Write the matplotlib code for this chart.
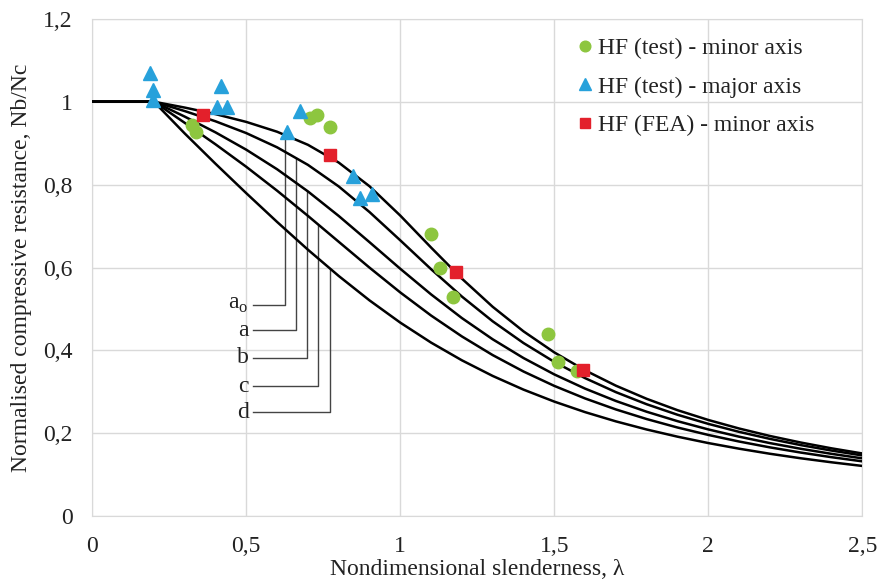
import matplotlib

matplotlib.use("Agg")
import matplotlib.pyplot as plt

# Buckling curves a0, a, b, c, d (reduction factor vs nondimensional slenderness)
lam = [0.0, 0.2, 0.3, 0.4, 0.5, 0.6, 0.7, 0.8, 0.9, 1.0, 1.1, 1.2, 1.3, 1.4,
       1.5, 1.6, 1.7, 1.8, 1.9, 2.0, 2.1, 2.2, 2.3, 2.4, 2.5]
chi_a0 = [1.0, 1.0, 0.9859, 0.9701, 0.9513, 0.9276, 0.8961, 0.8533, 0.7961,
          0.7253, 0.6482, 0.5732, 0.5053, 0.4461, 0.3953, 0.3520, 0.3150,
          0.2833, 0.2559, 0.2323, 0.2117, 0.1937, 0.1779, 0.1639, 0.1515]
chi_a = [1.0, 1.0, 0.9775, 0.9528, 0.9243, 0.8900, 0.8477, 0.7957, 0.7339,
         0.6656, 0.5960, 0.5300, 0.4703, 0.4179, 0.3724, 0.3332, 0.2994,
         0.2702, 0.2449, 0.2229, 0.2036, 0.1867, 0.1717, 0.1585, 0.1467]
chi_b = [1.0, 1.0, 0.9641, 0.9261, 0.8842, 0.8371, 0.7837, 0.7245, 0.6612,
         0.5970, 0.5352, 0.4781, 0.4269, 0.3817, 0.3422, 0.3079, 0.2781,
         0.2521, 0.2294, 0.2095, 0.1920, 0.1765, 0.1628, 0.1506, 0.1397]
chi_c = [1.0, 1.0, 0.9491, 0.8973, 0.8430, 0.7854, 0.7247, 0.6622, 0.5998,
         0.5399, 0.4842, 0.4338, 0.3888, 0.3492, 0.3145, 0.2842, 0.2577,
         0.2345, 0.2141, 0.1962, 0.1803, 0.1662, 0.1537, 0.1425, 0.1325]
chi_d = [1.0, 1.0, 0.9235, 0.8504, 0.7793, 0.7100, 0.6431, 0.5797, 0.5208,
         0.4671, 0.4189, 0.3762, 0.3385, 0.3055, 0.2766, 0.2512, 0.2289,
         0.2093, 0.1920, 0.1766, 0.1630, 0.1508, 0.1399, 0.1302, 0.1214]

# Test / FEA points
minor_test_x = [0.324, 0.338, 0.708, 0.729, 0.771, 1.100, 1.130, 1.170, 1.481, 1.512, 1.574]
minor_test_y = [0.944, 0.928, 0.961, 0.969, 0.939, 0.680, 0.600, 0.530, 0.440, 0.371, 0.351]
major_test_x = [0.186, 0.196, 0.196, 0.418, 0.405, 0.437, 0.675, 0.632, 0.848, 0.870, 0.908]
major_test_y = [1.069, 1.029, 1.005, 1.037, 0.987, 0.987, 0.978, 0.928, 0.820, 0.767, 0.778]
fea_x = [0.359, 0.771, 1.182, 1.593]
fea_y = [0.969, 0.872, 0.590, 0.353]

# curve labels with leader lines: slenderness where the leader meets the curve, label height
curve_labels = ["a$_\\mathregular{o}$", "a", "b", "c", "d"]
leader_x = [0.627, 0.662, 0.698, 0.734, 0.773]
leader_y = [0.510, 0.449, 0.382, 0.314, 0.251]
leader_start = 0.523

plt.rcParams["font.family"] = ["Liberation Serif", "DejaVu Serif"]
plt.rcParams["mathtext.fontset"] = "custom"
plt.rcParams["mathtext.rm"] = "Liberation Serif"
FS = 17

fig = plt.figure(figsize=(8.79, 5.88), dpi=100)
ax = fig.add_axes([0.105, 0.122, 0.876, 0.846])

curves = [chi_a0, chi_a, chi_b, chi_c, chi_d]
for chi in curves:
    ax.plot(lam, chi, color="black", linewidth=1.8, solid_joinstyle="round", zorder=3)

# leader lines from the labels up to each curve
for lbl, lx, ly, chi in zip(curve_labels, leader_x, leader_y, curves):
    # curve height at lx, looked up on the same curve data
    for i in range(len(lam) - 1):
        if lam[i] <= lx <= lam[i + 1]:
            t = (lx - lam[i]) / (lam[i + 1] - lam[i])
            top = chi[i] + t * (chi[i + 1] - chi[i])
            break
    ax.plot([leader_start, lx, lx], [ly, ly, top], color="#444444", linewidth=1.0, zorder=2)
    ax.text(leader_start - 0.015, ly, lbl, ha="right", va="center", fontsize=FS, color="#222222")

ax.plot(minor_test_x, minor_test_y, "o", color="#8dc63f", markersize=9,
        linestyle="none", label="HF (test) - minor axis", zorder=4)
ax.plot(major_test_x, major_test_y, "^", color="#27a1db", markersize=10,
        linestyle="none", label="HF (test) - major axis", zorder=5)
ax.plot(fea_x, fea_y, "s", color="#e3202b", markersize=9,
        linestyle="none", label="HF (FEA) - minor axis", zorder=6)

ax.set_xlim(0, 2.5)
ax.set_ylim(0, 1.2)
ax.set_xticks([0, 0.5, 1, 1.5, 2, 2.5])
ax.set_xticklabels(["0", "0,5", "1", "1,5", "2", "2,5"])
ax.set_yticks([0, 0.2, 0.4, 0.6, 0.8, 1.0, 1.2])
ax.set_yticklabels(["0", "0,2", "0,4", "0,6", "0,8", "1", "1,2"])
ax.tick_params(axis="x", length=0, labelsize=FS, colors="#222222", pad=14)
ax.tick_params(axis="y", length=0, labelsize=FS, colors="#222222", pad=14)
ax.grid(True, color="#d9d9d9", linewidth=1.0)
ax.set_axisbelow(True)
for s in ax.spines.values():
    s.set_color("#d9d9d9")

ax.set_xlabel("Nondimensional slenderness, λ", fontsize=FS, color="#222222", labelpad=2)
ax.set_ylabel("Normalised compressive resistance, Nb/Nc", fontsize=FS, color="#222222", labelpad=8)

ax.legend(loc="upper right", bbox_to_anchor=(0.965, 1.005), frameon=False, fontsize=FS,
          handletextpad=0.0, handlelength=1.1, labelspacing=0.72, markerscale=0.85,
          labelcolor="#222222")

fig.savefig("out.png", dpi=100)
